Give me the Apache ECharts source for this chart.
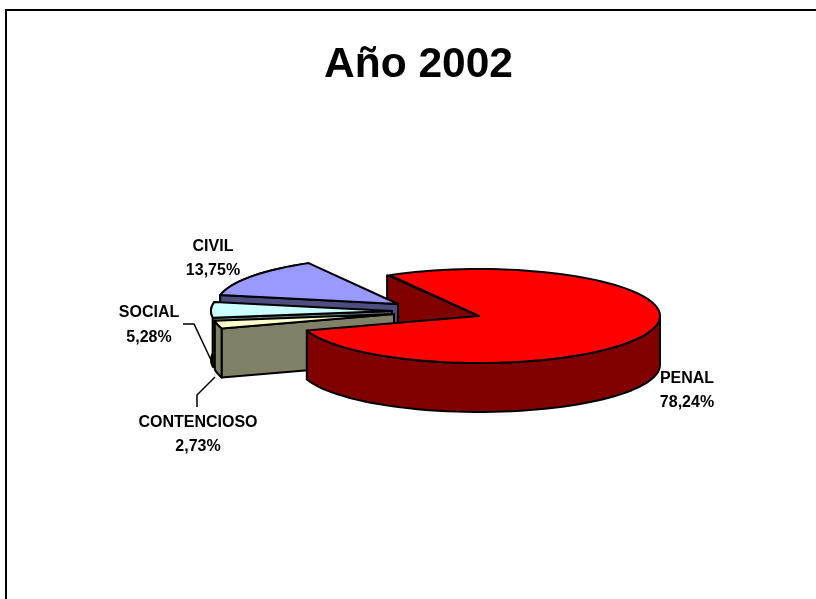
<!DOCTYPE html>
<html><head><meta charset="utf-8">
<style>html,body{margin:0;padding:0;background:#fff}#c{width:816px;height:599px}</style>
<script src="https://cdn.jsdelivr.net/npm/echarts@6/dist/echarts.min.js"></script>
</head><body><div id="c"></div>
<script>
// Data
const categories = ['PENAL', 'CONTENCIOSO', 'SOCIAL', 'CIVIL'];
const shares = [78.24, 2.73, 5.28, 13.75];
const percentLabels = ['78,24%', '2,73%', '5,28%', '13,75%'];
const topColors = ['#FF0000', '#FFFFCC', '#CCFFFF', '#9999FF'];
const wallColors = ['#800000', '#808066', '#668080', '#4D4D80'];
const chartTitle = 'Año 2002';

// Layout (pixels)
const RX = 181, RY = 47, DEPTH = 49, START_DEG = 119.6;
const APEX = { PENAL: [479, 316], CONTENCIOSO: [394, 314], SOCIAL: [392, 311], CIVIL: [398, 304] };
const LABEL = { PENAL: [687, 379, 403], CONTENCIOSO: [198, 423, 447], SOCIAL: [149, 313, 338], CIVIL: [213, 247, 271] };
const ORDER = { PENAL: 40, CONTENCIOSO: 30, SOCIAL: 20, CIVIL: 10 };
const LEADERS = { SOCIAL: [[183, 324], [194, 324], [211, 360]], CONTENCIOSO: [[197, 407], [197, 395], [215, 377]] };

const total = shares.reduce((a, b) => a + b, 0);
function arcPts(c, a0, a1, dy) {
  const n = Math.max(2, Math.ceil(Math.abs(a1 - a0) / 3)), pts = [];
  for (let i = 0; i <= n; i++) {
    const t = (a0 + (a1 - a0) * i / n) * Math.PI / 180;
    pts.push([c[0] + RX * Math.cos(t), c[1] - RY * Math.sin(t) + dy]);
  }
  return pts;
}
const stroke = { stroke: '#000', lineWidth: 2, lineJoin: 'round' };
function poly(points, fill, z2) {
  return { type: 'polygon', z2, shape: { points }, style: Object.assign({ fill }, stroke) };
}
function renderItem(params, api) {
  const i = params.dataIndex, name = categories[i], c = APEX[name];
  let before = 0;
  for (let k = 0; k < i; k++) before += shares[k];
  const a0 = START_DEG - before / total * 360;
  const a1 = a0 - api.value(0) / total * 360;
  const top = [c].concat(arcPts(c, a0, a1, 0));
  const z = ORDER[name], kids = [];
  const wall = (pts) => pts.concat(pts.slice().reverse().map(p => [p[0], p[1] + DEPTH]));
  if (name === 'PENAL') {
    const p0 = arcPts(c, a0, a0, 0)[0];
    kids.push(poly(wall([[p0[0] - 2.5, p0[1]], c]), wallColors[i], 1));
    kids.push(poly(wall(arcPts(c, 0, a1, 0)), wallColors[i], z));
  } else {
    const s = arcPts(c, a0, a0, 0)[0];
    kids.push(poly(wall(arcPts(c, a0, a1, 0)), name === 'SOCIAL' ? '#000' : wallColors[i], z));
    kids.push(poly(wall([c, s]), wallColors[i], z));
  }
  kids.push(poly(top, topColors[i], z + 1));
  const L = LABEL[name];
  const text = (t, y) => ({ type: 'text', z2: 60, style: { text: t, x: L[0], y, align: 'center', verticalAlign: 'middle', fill: '#000', font: 'bold 16px "Liberation Sans", Arial, sans-serif' } });
  kids.push(text(name, L[1]), text(percentLabels[i], L[2]));
  if (LEADERS[name]) kids.push({ type: 'polyline', z2: 60, shape: { points: LEADERS[name] }, style: { stroke: '#000', lineWidth: 1.5, fill: null } });
  return { type: 'group', children: kids };
}
const chart = echarts.init(document.getElementById('c'), null, { renderer: 'canvas' });
chart.setOption({
  animation: false,
  backgroundColor: '#fff',
  title: { text: chartTitle, left: 413.5, top: 39, textAlign: 'center', textStyle: { fontFamily: '"Liberation Sans", Arial, sans-serif', fontWeight: 'bold', fontSize: 42.5, color: '#000' } },
  graphic: [{ type: 'polyline', z: -1, shape: { points: [[6, 599], [6, 10], [816, 10]] }, style: { fill: null, stroke: '#000', lineWidth: 2 } }],
  series: [{ type: 'custom', coordinateSystem: 'none', renderItem, data: shares.map((v, i) => ({ name: categories[i], value: [v] })), silent: true }]
});
</script></body></html>
